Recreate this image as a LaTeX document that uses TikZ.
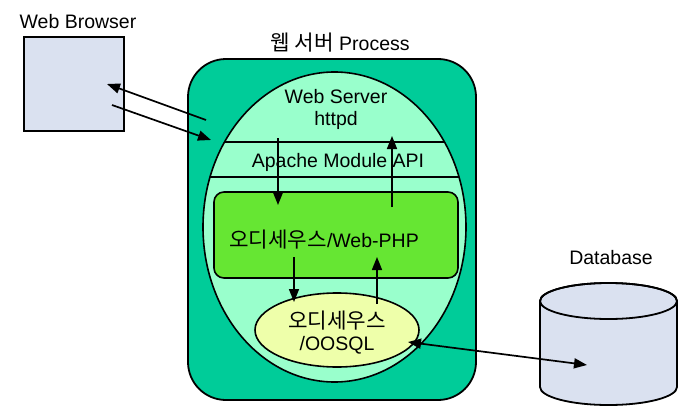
\documentclass[tikz,border=0pt]{standalone}
\usepackage{fontspec}
\setmainfont{Liberation Sans}
\newfontfamily\kr{Noto Sans CJK KR}[Scale=1.09]
\usetikzlibrary{arrows.meta,shapes.geometric}
\definecolor{outerteal}{HTML}{00CC99}
\definecolor{mint}{HTML}{99FFCC}
\definecolor{phpgreen}{HTML}{66E633}
\definecolor{sqlyellow}{HTML}{EEFFAA}
\definecolor{boxblue}{HTML}{DAE1F0}
\tikzset{
  lbl/.style={font=\fontsize{19.5}{22}\selectfont, inner sep=0pt, outer sep=0pt, align=center},
  procbox/.style={draw, line width=1.8pt, fill=outerteal, rounded corners=38pt, inner sep=0pt},
  srvell/.style={draw, line width=1.6pt, fill=mint, ellipse, inner sep=0pt},
  phpbox/.style={draw, line width=1.6pt, fill=phpgreen, rounded corners=10pt, inner sep=0pt},
  sqlell/.style={draw, line width=1.6pt, fill=sqlyellow, ellipse, inner sep=0pt},
  boxstyle/.style={draw, line width=1.8pt, fill=boxblue, inner sep=0pt},
  arr/.style={line width=1.7pt, -{Triangle[length=13pt,width=10pt]}},
  darr/.style={line width=1.7pt, {Triangle[length=13pt,width=10pt]}-{Triangle[length=13pt,width=10pt]}},
  sep/.style={line width=1.6pt}
}
\begin{document}
\begin{tikzpicture}[x=1pt,y=-1pt]
\useasboundingbox (0,0) rectangle (680,412);
% Web browser
\node[boxstyle, minimum width=100pt, minimum height=94pt] (browser) at (74,84) {};
\node[lbl] (browserlbl) at (78,22) {Web Browser};
% process
\node[procbox, minimum width=288pt, minimum height=341pt] (proc) at (332,229.5) {};
\node[lbl] (proclbl) at (340,43) {{\kr 웹 서버} Process};
\node[srvell, minimum width=263pt, minimum height=310pt] (srv) at (334.5,227) {};
\begin{scope}
  \clip (334.5,227) ellipse [x radius=131.5pt, y radius=155pt];
  \draw[sep] (190,142) -- (480,142);
  \draw[sep] (190,177) -- (480,177);
\end{scope}
\node[lbl] (srvlbl) at (336,109) {Web Server\\httpd};
\node[lbl] (apilbl) at (338,162) {Apache Module API};
\node[phpbox, minimum width=244pt, minimum height=86pt] (php) at (336,235) {};
\node[lbl] (phplbl) at (324,240) {{\kr 오디세우스}/Web-PHP};
\node[sqlell, minimum width=164pt, minimum height=74pt] (sql) at (337,330) {};
\node[lbl] (sqllbl) at (337,333) {{\kr 오디세우스}\\/OOSQL};
% database cylinder
\path[draw, line width=1.8pt, fill=boxblue] (540,301) -- (540,387)
  arc[start angle=180, end angle=360, x radius=68.5pt, y radius=18pt]
  -- (677,301)
  arc[start angle=0, end angle=180, x radius=68.5pt, y radius=18pt] -- cycle;
\draw[line width=1.8pt] (608.5,301) ellipse [x radius=68.5pt, y radius=18pt];
\node[lbl] (dblbl) at (611,258) {Database};
% connector end points
\coordinate (b1s) at (206,120);
\coordinate (b1e) at (107,84);
\coordinate (b2s) at (112,105);
\coordinate (b2e) at (211,140);
\coordinate (d1s) at (278,138);
\coordinate (d1e) at (278,205);
\coordinate (u1s) at (392,207);
\coordinate (u1e) at (392,136);
\coordinate (d2s) at (294,257);
\coordinate (d2e) at (294,302);
\coordinate (u2s) at (377,304);
\coordinate (u2e) at (377,257);
\coordinate (sqlend) at (408,342);
\coordinate (dbin) at (587,365);
% connectors
\draw[arr] (b1s) -- (b1e);
\draw[arr] (b2s) -- (b2e);
\draw[arr] (d1s) -- (d1e);
\draw[arr] (u1s) -- (u1e);
\draw[arr] (d2s) -- (d2e);
\draw[arr] (u2s) -- (u2e);
\draw[darr] (sqlend) -- (dbin);
\end{tikzpicture}
\end{document}
